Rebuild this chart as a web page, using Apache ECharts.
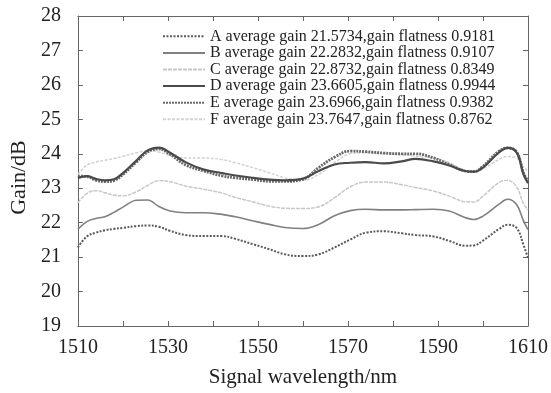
<!DOCTYPE html>
<html>
<head>
<meta charset="utf-8">
<script src="https://cdn.jsdelivr.net/npm/echarts@6/dist/echarts.min.js"></script>
<style>html,body{margin:0;padding:0;background:#fff}#c{width:551px;height:393px}</style>
</head>
<body>
<div id="c"></div>
<script>
var wavelength = [1510,1512,1514,1516,1518,1520,1523,1525.5,1528,1530.5,1534,1538,1542,1545,1549,1552.5,1556,1560,1563.5,1567,1570.5,1574,1578,1582,1585,1589,1592.5,1596,1598,1600,1603.5,1605.5,1607.5,1609,1610];
var seriesA = [21.28,21.6,21.71,21.78,21.82,21.85,21.9,21.92,21.88,21.76,21.64,21.61,21.61,21.53,21.37,21.23,21.08,21.03,21.08,21.28,21.51,21.71,21.75,21.69,21.64,21.6,21.47,21.33,21.34,21.48,21.81,21.94,21.84,21.35,20.98];
var seriesB = [21.81,22.03,22.12,22.17,22.3,22.45,22.65,22.66,22.47,22.34,22.29,22.29,22.24,22.17,22.05,21.95,21.86,21.83,21.95,22.2,22.35,22.39,22.37,22.37,22.38,22.39,22.34,22.15,22.09,22.19,22.53,22.68,22.52,22.05,21.8];
var seriesC = [22.58,22.85,22.93,22.87,22.8,22.78,22.9,23.08,23.22,23.19,23.06,22.97,22.86,22.73,22.6,22.48,22.42,22.41,22.46,22.72,23.04,23.18,23.18,23.1,23.02,22.92,22.77,22.61,22.6,22.77,23.16,23.23,23.03,22.55,22.38];
var seriesD = [23.3,23.35,23.27,23.23,23.26,23.44,23.8,24.1,24.18,24.03,23.75,23.54,23.44,23.37,23.3,23.25,23.23,23.28,23.5,23.69,23.74,23.76,23.72,23.78,23.85,23.78,23.66,23.5,23.48,23.6,24.03,24.17,24.03,23.4,23.15];
var seriesE = [23.35,23.34,23.23,23.19,23.22,23.4,23.76,24.05,24.14,23.98,23.67,23.5,23.36,23.3,23.25,23.2,23.2,23.26,23.6,23.9,24.08,24.06,24.02,24.0,24.0,23.88,23.69,23.5,23.48,23.64,24.07,24.17,24.05,23.45,23.2];
var seriesF = [23.4,23.67,23.76,23.81,23.86,23.92,24.03,24.09,24.05,23.95,23.88,23.88,23.83,23.74,23.59,23.45,23.3,23.23,23.4,23.74,24.0,24.03,24.0,23.98,23.93,23.88,23.74,23.5,23.46,23.56,23.83,23.92,23.88,23.62,23.5];
var seriesNames = [
  'A average gain 21.5734,gain flatness 0.9181',
  'B average gain 22.2832,gain flatness 0.9107',
  'C average gain 22.8732,gain flatness 0.8349',
  'D average gain 23.6605,gain flatness 0.9944',
  'E average gain 23.6966,gain flatness 0.9382',
  'F average gain 23.7647,gain flatness 0.8762'
];
var xTicks = {min: 1510, max: 1610, interval: 10};
var yTicks = {min: 19, max: 28, interval: 1};

function pairs(arr){ return wavelength.map(function(w,i){ return [w, arr[i]]; }); }
var styles = [
  {color:'#5a5a5a', width:2, type:[2,1.5]},
  {color:'#808080', width:1.6, type:'solid'},
  {color:'#c8c8c8', width:1.5, type:[4,1]},
  {color:'#4a4a4a', width:2.2, type:'solid'},
  {color:'#6a6a6a', width:2.8, type:[2,1]},
  {color:'#d2d2d2', width:1.5, type:[3,1.5]}
];
var data = [seriesA, seriesB, seriesC, seriesD, seriesE, seriesF];
var font = 'Liberation Serif, Times New Roman, serif';
var axisColor = '#666';

var chart = echarts.init(document.getElementById('c'), null, {renderer:'canvas'});
chart.setOption({
  animation:false,
  backgroundColor:'#fff',
  grid:{left:76, right:18, top:16, bottom:66, containLabel:false},
  legend:{
    orient:'vertical', left:157, top:23,
    itemWidth:42, itemHeight:8, itemGap:0,
    itemStyle:{opacity:0},
    textStyle:{fontFamily:font, fontSize:16, color:'#222', lineHeight:16.6},
    data: seriesNames
  },
  xAxis:[{
    type:'value', min:xTicks.min, max:xTicks.max, interval:xTicks.interval,
    name:'Signal wavelength/nm', nameLocation:'middle', nameGap:41,
    nameTextStyle:{fontFamily:font, fontSize:21, color:'#222'},
    axisLine:{show:true, lineStyle:{color:axisColor, width:1}},
    axisTick:{show:true, inside:true, length:5, lineStyle:{color:axisColor}},
    axisLabel:{fontFamily:font, fontSize:20, color:'#222', margin:12,
      formatter:function(v){ return ((v - xTicks.min) % 20 === 0) ? String(v) : ''; }},
    splitLine:{show:false}
  },{
    type:'value', position:'top', min:xTicks.min, max:xTicks.max, interval:xTicks.interval,
    axisLine:{show:true, lineStyle:{color:axisColor, width:1}},
    axisTick:{show:true, inside:true, length:5, lineStyle:{color:axisColor}},
    axisLabel:{show:false}, splitLine:{show:false}
  }],
  yAxis:[{
    type:'value', min:yTicks.min, max:yTicks.max, interval:yTicks.interval,
    name:'Gain/dB', nameLocation:'middle', nameGap:38,
    nameTextStyle:{fontFamily:font, fontSize:22, color:'#222', padding:[0,13,0,0]},
    axisLine:{show:true, lineStyle:{color:axisColor, width:1}},
    axisTick:{show:true, inside:true, length:5, lineStyle:{color:axisColor}},
    axisLabel:{fontFamily:font, fontSize:20, color:'#222', margin:17},
    splitLine:{show:false}
  },{
    type:'value', position:'right', min:yTicks.min, max:yTicks.max, interval:yTicks.interval,
    axisLine:{show:true, lineStyle:{color:axisColor, width:1}},
    axisTick:{show:true, inside:true, length:5, lineStyle:{color:axisColor}},
    axisLabel:{show:false}, splitLine:{show:false}
  }],
  series: data.map(function(d,i){
    return {
      name: seriesNames[i], type:'line', smooth:0.4, symbol:'none',
      data: pairs(d),
      lineStyle:{color:styles[i].color, width:styles[i].width, type:styles[i].type},
      itemStyle:{color:styles[i].color},
      z: 10 - i
    };
  })
});
</script>
</body>
</html>
